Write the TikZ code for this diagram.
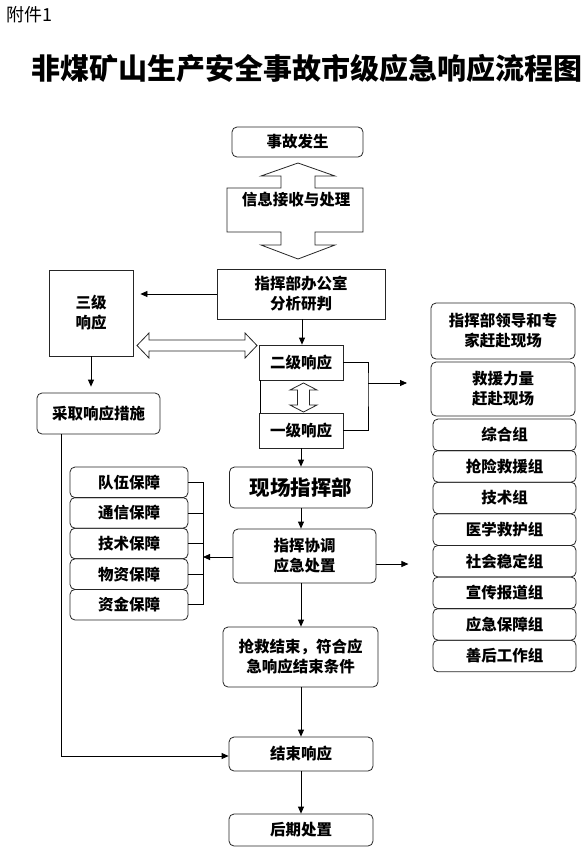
\documentclass[tikz,border=0pt]{standalone}
\usepackage{fontspec}
\setmainfont{Noto Sans CJK SC}
\usetikzlibrary{arrows.meta}
\begin{document}
\begin{tikzpicture}[x=1pt,y=-1pt,
  lbl/.style={font=\bfseries\fontsize{15.5}{20}\selectfont, align=center, text=black},
  sq/.style={lbl, draw=black!85, line width=0.8pt, inner sep=0pt},
  rb/.style={sq, rounded corners=5pt},
  arr/.style={line width=0.8pt, -{Triangle[length=7pt,width=6pt]}},
  ln/.style={line width=0.8pt},
  hollow/.style={draw=black!85, line width=0.8pt, fill=white},
]
\useasboundingbox[fill=white] (0,0) rectangle (584,854);

% header
\node[anchor=west, font=\fontsize{18}{20}\selectfont, inner sep=0pt] (fujian) at (6,15) {附件1};
\node[font=\bfseries\fontsize{29}{32}\selectfont, inner sep=0pt] (title) at (307,68) {非煤矿山生产安全事故市级应急响应流程图};

% top
\node[rb, minimum width=131pt, minimum height=30pt] (shigu) at (297.5,142) {事故发生};
\draw[hollow] (298,163) -- (335,176) -- (315,176) -- (315,188) -- (363,188) -- (363,232) -- (315,232) -- (315,245) -- (335,245) -- (298,259) -- (261,245) -- (281,245) -- (281,232) -- (227,232) -- (227,188) -- (281,188) -- (281,176) -- (261,176) -- cycle;
\node[lbl, inner sep=0pt] (xinxi) at (296,200) {信息接收与处理};

\node[sq, minimum width=168pt, minimum height=50pt] (bangong) at (301,294) {指挥部办公室\\分析研判};
\node[sq, minimum width=84pt, minimum height=86pt] (sanji) at (91,313) {三级\\响应};
\node[sq, minimum width=84pt, minimum height=35pt] (erji) at (301,362.5) {二级响应};
\node[sq, minimum width=84pt, minimum height=35pt] (yiji) at (301,430.5) {一级响应};
\node[rb, minimum width=123pt, minimum height=41pt] (caiqu) at (98.5,413.5) {采取响应措施};

% hollow double arrows
\draw[hollow] (137,345.5) -- (149,333) -- (149,340) -- (245,340) -- (245,333) -- (257,345.5) -- (245,358) -- (245,351) -- (149,351) -- (149,358) -- cycle;
\draw[hollow] (303.5,383) -- (317,390) -- (309.5,390) -- (309.5,405) -- (317,405) -- (303.5,412) -- (290,405) -- (297.5,405) -- (297.5,390) -- (290,390) -- cycle;

% right column
\node[rb, minimum width=144pt, minimum height=56pt] (lingdao) at (503,331) {指挥部领导和专\\家赶赴现场};
\node[rb, minimum width=144pt, minimum height=54pt] (jiuyuan) at (503,389) {救援力量\\赶赴现场};
\foreach \t [count=\i] in {综合组,抢险救援组,技术组,医学救护组,社会稳定组,宣传报道组,应急保障组,善后工作组}{
  \node[rb, minimum width=143pt, minimum height=31.6pt] (g\i) at (504.5,{419+31.6*(\i-0.5)}) {\t};
}

% middle
\node[rb, minimum width=143pt, minimum height=41pt, font=\bfseries\fontsize{20.5}{24}\selectfont] (xianchang) at (301,487.5) {现场指挥部};
\node[rb, minimum width=143pt, minimum height=54pt] (xietiao) at (304.5,556) {指挥协调\\应急处置};
\foreach \t [count=\i] in {队伍保障,通信保障,技术保障,物资保障,资金保障}{
  \node[rb, minimum width=118pt, minimum height=30.6pt] (b\i) at (129,{467+30.6*(\i-0.5)}) {\t};
}
\node[rb, minimum width=155pt, minimum height=60pt] (qiangjiu) at (300.5,657) {抢救结束，符合应\\急响应结束条件};
\node[rb, minimum width=144pt, minimum height=34pt] (jieshu) at (301,754) {结束响应};
\node[rb, minimum width=144pt, minimum height=32pt] (houqi) at (301,830) {后期处置};

% connectors
\draw[arr, shorten >=7pt] (bangong.west) -- (bangong.west -| sanji.east);
\draw[arr] ([xshift=1pt]bangong.south) -- ([xshift=1pt]erji.north);
\draw[arr, shorten >=6pt] (sanji.south) -- (caiqu.north -| sanji.south);
\draw[ln] ([xshift=2pt]erji.south west) -- ([xshift=2pt]yiji.north west);
\coordinate (rbr) at (368,383);
\coordinate (rbrend) at (407,383);
\draw[ln] (erji.east) -| (rbr) |- (yiji.east);
\draw[arr] (rbr) -- (rbrend);
\draw[arr] (yiji.south) -- (xianchang.north);
\draw[arr] (xianchang.south) -- (xianchang.south |- xietiao.north);
\coordinate (xr) at ([yshift=-8pt]xietiao.east);
\draw[arr] (xr) -- ++(32,0) coordinate (xrend);
\coordinate (lbr) at (203,557);
\draw[ln] (b1.east) -| (lbr);
\draw[ln] (b5.east) -| (lbr);
\foreach \i in {2,3,4}{\draw[ln] (b\i.east) -- (b\i.east -| lbr);}
\draw[arr] (xietiao.west |- lbr) -- (lbr);
\draw[arr] (jieshu.north |- xietiao.south) -- (jieshu.north |- qiangjiu.north);
\draw[arr] (jieshu.north |- qiangjiu.south) -- (jieshu.north);
\draw[arr] (jieshu.south) -- (houqi.north);
\coordinate (cq) at (61,434);
\draw[arr] (cq) |- ([yshift=-2pt]jieshu.west);
\end{tikzpicture}
\end{document}
